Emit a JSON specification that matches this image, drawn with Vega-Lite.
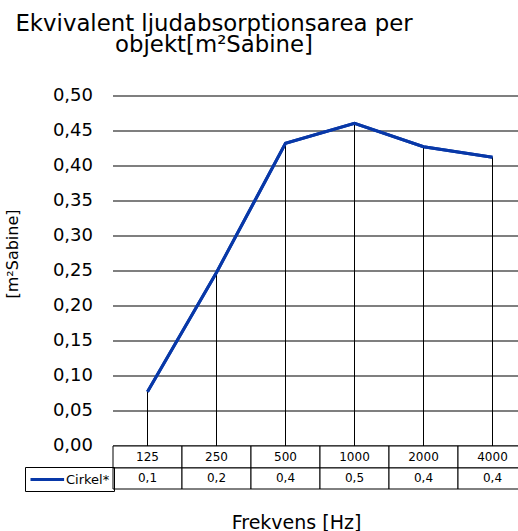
{
  "$schema": "https://vega.github.io/schema/vega-lite/v6.json",
  "autosize": {"type": "none"},
  "padding": {"left": 113, "top": 96, "right": 0, "bottom": 42},
  "width": 414,
  "height": 393,
  "config": {
    "locale": {"number": {"decimal": ",", "thousands": " ", "grouping": [3], "currency": ["", ""]}},
    "view": {"stroke": null},
    "font": "DejaVu Sans",
    "axisY": {
      "labelOverlap": false, "translate": 0,
      "grid": true, "gridColor": "black", "gridWidth": 1.2,
      "ticks": false, "domain": false, "format": ".2f",
      "labelFont": "DejaVu Sans", "labelFontSize": 18, "labelPadding": 20, "labelColor": "black",
      "titleFont": "DejaVu Sans", "titleFontSize": 16,
      "titleFontWeight": "normal", "titleColor": "black",
      "titleX": -100, "titleY": 158, "titleAngle": -90,
      "titleAlign": "center", "titleBaseline": "middle"
    },
    "axisX": {
      "labels": false, "ticks": false, "domain": false, "grid": false,
      "titleFont": "DejaVu Sans", "titleFontSize": 19,
      "titleFontWeight": "normal", "titleColor": "black",
      "titleX": 183, "titleY": 39, "titleAlign": "center", "titleBaseline": "alphabetic"
    }
  },
  "title": {
    "text": ["Ekvivalent ljudabsorptionsarea per", "objekt[m²Sabine]"],
    "font": "DejaVu Sans",
    "fontSize": 22.8,
    "fontWeight": "normal",
    "color": "black",
    "lineHeight": 21,
    "anchor": "middle",
    "frame": "group",
    "dx": -106,
    "offset": 30
  },
  "data": {
    "values": [
      {"freq": "125", "value": 0.0776},
      {"freq": "250", "value": 0.248},
      {"freq": "500", "value": 0.4324},
      {"freq": "1000", "value": 0.461},
      {"freq": "2000", "value": 0.4276},
      {"freq": "4000", "value": 0.4124}
    ]
  },
  "layer": [
    {
      "mark": {"type": "line", "strokeWidth": 3},
      "encoding": {
        "x": {
          "field": "freq", "type": "ordinal", "sort": null,
          "scale": {"paddingInner": 0, "paddingOuter": 0},
          "axis": {"title": "Frekvens [Hz]"}
        },
        "y": {
          "field": "value", "type": "quantitative",
          "scale": {"domain": [-0.06143, 0.5], "nice": false, "zero": false},
          "axis": {"title": "[m²Sabine]", "values": [0, 0.05, 0.1, 0.15, 0.2, 0.25, 0.3, 0.35, 0.4, 0.45, 0.5]}
        },
        "color": {
          "datum": "Cirkel*",
          "scale": {"range": ["#0838a8"]},
          "legend": {
            "orient": "none", "legendX": -88, "legendY": 371, "title": null,
            "padding": 4, "strokeColor": "black",
            "symbolType": "M-1,0H3.8", "symbolSize": 196, "symbolStrokeWidth": 3,
            "labelFont": "DejaVu Sans", "labelFontSize": 13, "labelColor": "black", "labelOffset": 20
          }
        }
      }
    },
    {
      "mark": {"type": "rect", "fill": "white", "stroke": "black", "strokeWidth": 1},
      "encoding": {
        "x": {"field": "freq", "type": "ordinal", "sort": null, "axis": {"title": "Frekvens [Hz]"}},
        "y": {"datum": 0, "axis": {"title": "[m²Sabine]", "values": [0, 0.05, 0.1, 0.15, 0.2, 0.25, 0.3, 0.35, 0.4, 0.45, 0.5]}},
        "y2": {"datum": -0.0314}
      }
    },
    {
      "mark": {"type": "rect", "fill": "white", "stroke": "black", "strokeWidth": 1},
      "encoding": {
        "x": {"field": "freq", "type": "ordinal", "sort": null, "axis": {"title": "Frekvens [Hz]"}},
        "y": {"datum": -0.0314, "axis": {"title": "[m²Sabine]", "values": [0, 0.05, 0.1, 0.15, 0.2, 0.25, 0.3, 0.35, 0.4, 0.45, 0.5]}},
        "y2": {"datum": -0.06143}
      }
    },
    {
      "mark": {"type": "text", "font": "DejaVu Sans", "fontSize": 12, "color": "black", "baseline": "middle"},
      "encoding": {
        "x": {"field": "freq", "type": "ordinal", "sort": null, "axis": {"title": "Frekvens [Hz]"}},
        "y": {"datum": -0.0157, "axis": {"title": "[m²Sabine]", "values": [0, 0.05, 0.1, 0.15, 0.2, 0.25, 0.3, 0.35, 0.4, 0.45, 0.5]}},
        "text": {"field": "freq"}
      }
    },
    {
      "mark": {"type": "text", "font": "DejaVu Sans", "fontSize": 12, "color": "black", "baseline": "middle"},
      "encoding": {
        "x": {"field": "freq", "type": "ordinal", "sort": null, "axis": {"title": "Frekvens [Hz]"}},
        "y": {"datum": -0.0464, "axis": {"title": "[m²Sabine]", "values": [0, 0.05, 0.1, 0.15, 0.2, 0.25, 0.3, 0.35, 0.4, 0.45, 0.5]}},
        "text": {"field": "value", "type": "quantitative", "format": ".1f"}
      }
    },
    {
      "mark": {"type": "rule", "color": "black", "strokeWidth": 1},
      "encoding": {
        "x": {"field": "freq", "type": "ordinal", "sort": null, "axis": {"title": "Frekvens [Hz]"}},
        "y": {"field": "value", "type": "quantitative", "axis": {"title": "[m²Sabine]", "values": [0, 0.05, 0.1, 0.15, 0.2, 0.25, 0.3, 0.35, 0.4, 0.45, 0.5]}},
        "y2": {"datum": 0}
      }
    },
    {
      "mark": {"type": "line", "strokeWidth": 3},
      "encoding": {
        "x": {"field": "freq", "type": "ordinal", "sort": null, "axis": {"title": "Frekvens [Hz]"}},
        "y": {"field": "value", "type": "quantitative", "axis": {"title": "[m²Sabine]", "values": [0, 0.05, 0.1, 0.15, 0.2, 0.25, 0.3, 0.35, 0.4, 0.45, 0.5]}},
        "color": {"datum": "Cirkel*"}
      }
    }
  ]
}
